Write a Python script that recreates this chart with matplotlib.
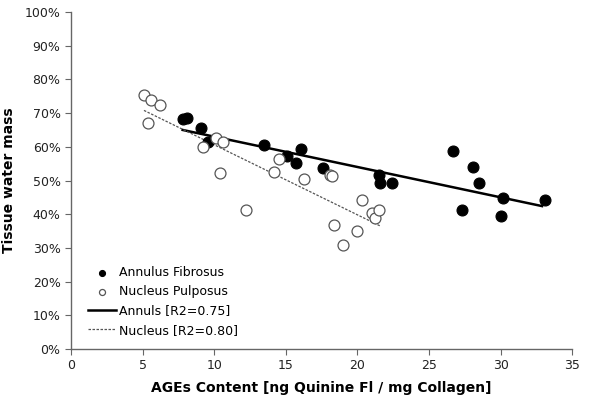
import matplotlib
matplotlib.use("Agg")
import matplotlib.pyplot as plt
from matplotlib.ticker import PercentFormatter

# Data (AGEs content, tissue water mass %)
annulus_x = [7.8, 8.1, 9.1, 9.6, 13.5, 15.1, 15.7, 16.1, 17.6, 21.5, 21.6, 22.4,
             26.7, 27.3, 28.1, 28.5, 30.0, 30.2, 33.1]
annulus_y = [68.3, 68.6, 65.5, 61.4, 60.4, 57.4, 55.2, 59.2, 53.8, 51.5, 49.2, 49.2,
             58.7, 41.3, 54.0, 49.4, 39.4, 44.7, 44.1]

nucleus_x = [5.1, 5.6, 6.2, 5.4, 9.2, 10.1, 10.6, 10.4, 12.2, 14.2, 14.5, 16.3,
             18.1, 18.2, 18.4, 19.0, 20.0, 20.3, 21.0, 21.2, 21.5]
nucleus_y = [75.4, 73.9, 72.3, 67.2, 59.8, 62.7, 61.3, 52.2, 41.1, 52.4, 56.3, 50.5,
             51.5, 51.3, 36.9, 31.0, 35.0, 44.3, 40.4, 38.9, 41.3]

annulus_fit_x = [7.8, 32.9]
annulus_fit_y = [65.0, 42.4]
nucleus_fit_x = [5.1, 21.6]
nucleus_fit_y = [70.8, 36.5]

x_ticks = [0, 5, 10, 15, 20, 25, 30, 35]
y_ticks = [0, 10, 20, 30, 40, 50, 60, 70, 80, 90, 100]

fig = plt.figure(figsize=(6.01, 4.0), dpi=100)
ax = fig.add_axes([0.118, 0.1275, 0.834, 0.8425])

ax.scatter(annulus_x, annulus_y, s=62, facecolor="black", edgecolor="black",
           linewidth=0.8, zorder=3, label="Annulus Fibrosus")
ax.scatter(nucleus_x, nucleus_y, s=62, facecolor="white", edgecolor="#555555",
           linewidth=0.9, zorder=3, label="Nucleus Pulposus")
ax.plot(annulus_fit_x, annulus_fit_y, color="black", lw=1.8, zorder=2,
        label="Annuls [R2=0.75]")
ax.plot(nucleus_fit_x, nucleus_fit_y, color="#555555", lw=0.9, ls=(0, (2, 1.2)),
        zorder=2, label="Nucleus [R2=0.80]")

ax.set_xlim(0, 35)
ax.set_ylim(0, 100)
ax.set_xticks(x_ticks)
ax.set_yticks(y_ticks)
ax.yaxis.set_major_formatter(PercentFormatter(decimals=0))

for s in ["top", "right"]:
    ax.spines[s].set_visible(False)
for s in ["left", "bottom"]:
    ax.spines[s].set_color("#666666")
    ax.spines[s].set_linewidth(1.0)
ax.tick_params(direction="out", length=4, color="#666666", labelsize=9,
               labelcolor="#222222")

ax.set_xlabel("AGEs Content [ng Quinine Fl / mg Collagen]", fontsize=10,
              fontweight="bold", labelpad=6)
ax.set_ylabel("Tissue water mass", fontsize=10, fontweight="bold", labelpad=6)

leg = ax.legend(loc="lower left", bbox_to_anchor=(0.012, 0.003), frameon=False,
                fontsize=9, markerscale=0.55, handlelength=2.2,
                handletextpad=0.3, labelspacing=0.5)

fig.savefig("out.png", dpi=100)
